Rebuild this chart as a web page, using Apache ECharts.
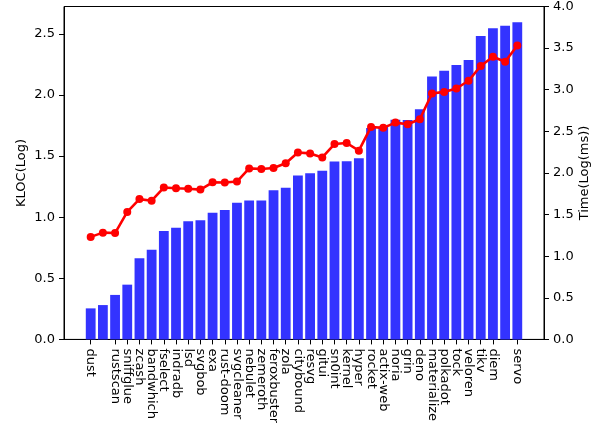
<!DOCTYPE html>
<html>
<head>
<meta charset="utf-8">
<script src="https://cdn.jsdelivr.net/npm/echarts@6/dist/echarts.min.js"></script>
<style>
  html, body { margin: 0; padding: 0; background: #fff; }
  #chart { width: 608px; height: 426px; }
</style>
</head>
<body>
<div id="chart"></div>
<script>
// 项目名 (x 轴)
const projects = ['dust', 'zoxide', 'rustscan', 'sniffglue', 'zcash', 'bandwhich', 'fselect', 'indradb', 'lsd', 'svgbob',
  'exa', 'rust-doom', 'svgcleaner', 'nebulet', 'zemeroth', 'feroxbuster', 'zola', 'citybound', 'resvg', 'gitui',
  'sn0int', 'kernel', 'hyper', 'rocket', 'actix-web', 'noria', 'grin', 'deno', 'materialize', 'polkadot',
  'tock', 'veloren', 'tikv', 'diem', 'substrate', 'servo'];

// 柱状图: KLOC(Log)
const klocLog = [0.254, 0.281, 0.364, 0.448, 0.664, 0.734, 0.888, 0.913, 0.967, 0.975,
  1.037, 1.058, 1.118, 1.137, 1.137, 1.220, 1.240, 1.342, 1.360, 1.380,
  1.455, 1.457, 1.482, 1.730, 1.740, 1.798, 1.795, 1.884, 2.151, 2.198,
  2.246, 2.287, 2.483, 2.546, 2.567, 2.594];

// 折线: Time(Log(ms))
const timeLog = [1.232, 1.283, 1.278, 1.532, 1.686, 1.667, 1.825, 1.817, 1.810, 1.800,
  1.888, 1.885, 1.897, 2.055, 2.047, 2.060, 2.117, 2.245, 2.235, 2.187,
  2.347, 2.360, 2.268, 2.553, 2.542, 2.605, 2.585, 2.646, 2.955, 2.974,
  3.015, 3.108, 3.285, 3.397, 3.337, 3.532];

// 刻度
const leftTicks = [0, 0.5, 1.0, 1.5, 2.0, 2.5];
const rightTicks = [0, 0.5, 1.0, 1.5, 2.0, 2.5, 3.0, 3.5, 4.0];

const font = 'DejaVu Sans';
const idx = projects.map((_, i) => i);

const chart = echarts.init(document.getElementById('chart'), null, { renderer: 'canvas' });

const option = {
  animation: false,
  grid: {
    left: 64, right: 64, top: 5, bottom: 84,
    show: true, borderColor: '#000', borderWidth: 1
  },
  xAxis: {
    type: 'value',
    min: -2.19,
    max: 37.19,
    splitLine: { show: false },
    axisLine: { onZero: false, lineStyle: { color: '#000', width: 1 } },
    axisTick: { show: true, customValues: idx, length: 5, lineStyle: { color: '#000' } },
    axisLabel: {
      customValues: idx,
      rotate: -90,
      margin: 9,
      showMinLabel: true,
      showMaxLabel: true,
      hideOverlap: false,
      color: '#000',
      fontFamily: font,
      fontSize: 13,
      formatter: (v) => projects[Math.round(v)] ?? ''
    }
  },
  yAxis: [
    {
      type: 'value',
      min: 0,
      max: Math.max(...klocLog) * 1.05,
      position: 'left',
      name: 'KLOC(Log)',
      nameLocation: 'middle',
      nameRotate: 90,
      nameGap: 36,
      nameMoveOverlap: false,
      nameTextStyle: { color: '#000', fontFamily: font, fontSize: 13 },
      splitLine: { show: false },
      axisLine: { show: true, onZero: false, lineStyle: { color: '#000' } },
      axisTick: { show: true, customValues: leftTicks, length: 5, lineStyle: { color: '#000' } },
      axisLabel: {
        customValues: leftTicks,
        margin: 9,
        color: '#000', fontFamily: font, fontSize: 13,
        formatter: (v) => v.toFixed(1)
      }
    },
    {
      type: 'value',
      min: 0,
      max: 4,
      position: 'right',
      name: 'Time(Log(ms))',
      nameLocation: 'middle',
      nameRotate: 90,
      nameGap: 34,
      nameMoveOverlap: false,
      nameTextStyle: { color: '#000', fontFamily: font, fontSize: 13 },
      splitLine: { show: false },
      axisLine: { show: true, onZero: false, lineStyle: { color: '#000' } },
      axisTick: { show: true, customValues: rightTicks, length: 5, lineStyle: { color: '#000' } },
      axisLabel: {
        customValues: rightTicks,
        margin: 9,
        color: '#000', fontFamily: font, fontSize: 13,
        formatter: (v) => v.toFixed(1)
      }
    }
  ],
  series: [
    {
      name: 'KLOC',
      type: 'bar',
      yAxisIndex: 0,
      barWidth: 9.8,
      data: klocLog.map((v, i) => [i, v]),
      itemStyle: { color: 'rgb(51, 51, 255)' },
      z: 2
    },
    {
      name: 'Time',
      type: 'line',
      yAxisIndex: 1,
      data: timeLog.map((v, i) => [i, v]),
      symbol: 'circle',
      symbolSize: 8,
      lineStyle: { color: 'red', width: 2.6 },
      itemStyle: { color: 'red' },
      z: 3
    }
  ]
};

chart.setOption(option);
</script>
</body>
</html>
